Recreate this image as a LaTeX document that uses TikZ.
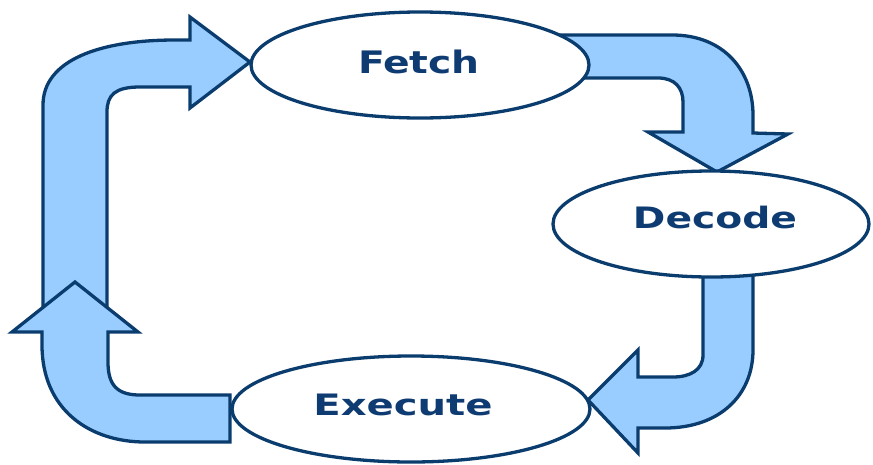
\documentclass[tikz,border=0pt]{standalone}
\usepackage{fontspec}
\setmainfont{DejaVu Sans}
\usetikzlibrary{shapes.geometric}
\definecolor{edgeblue}{HTML}{0B3C6E}
\definecolor{fillblue}{HTML}{99CCFF}
\definecolor{textblue}{HTML}{0E3B72}
\tikzset{
  blockarrow/.style={draw=edgeblue, fill=fillblue, line width=3.3pt, line join=miter},
  stage/.style={ellipse, draw=edgeblue, fill=white, line width=3.3pt, inner sep=0pt},
  stagetext/.style={anchor=base, text=textblue, inner sep=0pt,
    font=\fontsize{29.5}{34}\selectfont\bfseries}
}
\begin{document}
\begin{tikzpicture}[x=1pt, y=-1pt]
\useasboundingbox (0,0) rectangle (873,464);

% left column: shaft rising into Fetch
\draw[blockarrow] (43,320) -- (43,105)
  .. controls (43,60) and (100,40) .. (175,40) -- (190,40) -- (190,17)
  -- (250,62) -- (190,108) -- (190,87) -- (140,87)
  .. controls (115,87) and (107,95) .. (107,112) -- (107,320) -- cycle;

% from Execute, left and up
\draw[blockarrow] (75,282) -- (138,332) -- (108,332) -- (108,362)
  .. controls (108,385) and (117,395) .. (140,395) -- (230,395) -- (230,442)
  -- (145,442) .. controls (90,442) and (42,410) .. (42,345) -- (42,332)
  -- (12,332) -- cycle;

% Fetch -> Decode
\draw[blockarrow] (540,35) -- (672,35)
  .. controls (725,35) and (753,72) .. (753,115) -- (753,133) -- (788,134)
  -- (717,172) -- (648,132) -- (683,132) -- (683,102)
  .. controls (683,88) and (675,78) .. (658,78) -- (540,78) -- cycle;

% Decode -> Execute
\draw[blockarrow] (703,255) -- (703,355)
  .. controls (703,370) and (690,377) .. (673,377) -- (638,377) -- (638,350)
  -- (588,400) -- (638,453) -- (638,428) -- (665,428)
  .. controls (720,428) and (753,395) .. (753,350) -- (753,255) -- cycle;

% the three stages
\node[stage, minimum width=338pt, minimum height=106pt] (fetch) at (420,65) {};
\node[stage, minimum width=316pt, minimum height=106pt] (decode) at (711,224) {};
\node[stage, minimum width=358pt, minimum height=106pt] (execute) at (411,409) {};

\node[stagetext] (fetchlbl) at (419,73) {\scalebox{1.33}[1.05]{Fetch}};
\node[stagetext] (decodelbl) at (715,228) {\scalebox{1.33}[1]{Decode}};
\node[stagetext] (executelbl) at (403,415) {\scalebox{1.36}[1]{Execute}};
\end{tikzpicture}
\end{document}
